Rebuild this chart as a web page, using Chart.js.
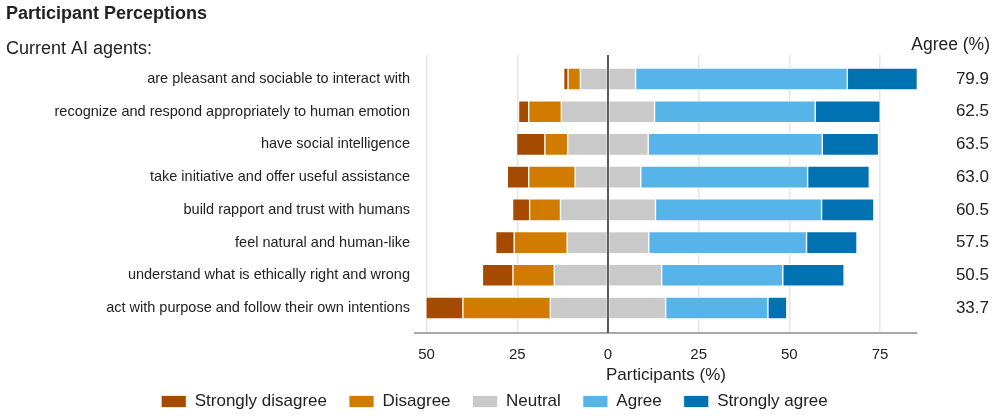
<!DOCTYPE html>
<html>
<head>
<meta charset="utf-8">
<script src="https://cdn.jsdelivr.net/npm/chart.js@4"></script>
<style>
  html, body { margin: 0; padding: 0; background: #fff; }
  #wrap { width: 995px; height: 416px; }
</style>
</head>
<body>
<div id="wrap"><canvas id="chart"></canvas></div>
<script>
// survey statements (top to bottom)
const categories = [
  'are pleasant and sociable to interact with',
  'recognize and respond appropriately to human emotion',
  'have social intelligence',
  'take initiative and offer useful assistance',
  'build rapport and trust with humans',
  'feel natural and human-like',
  'understand what is ethically right and wrong',
  'act with purpose and follow their own intentions'
];
const stronglyDisagree = [1.2, 2.8, 7.8, 5.9, 4.7, 5.1, 8.4, 10.2];
const disagree = [3.4, 9.0, 6.3, 12.8, 8.5, 14.6, 11.4, 24.1];
const neutral = [15.2, 25.7, 22.2, 18.1, 26.2, 22.5, 29.6, 31.8];
const agree = [58.4, 44.3, 48.0, 46.0, 45.8, 43.5, 33.4, 28.2];
const stronglyAgree = [19.3, 17.9, 15.5, 17.0, 14.4, 13.9, 16.9, 5.2];
const agreePct = [79.9, 62.5, 63.5, 63.0, 60.5, 57.5, 50.5, 33.7];
const xTicks = [-50, -25, 0, 25, 50, 75];

const FONT = "'Liberation Sans', Arial, sans-serif";
const colors = {
  sd: '#A54B00',
  d: '#D17C00',
  n: '#C9C9C9',
  a: '#57B4E8',
  sa: '#0072B2'
};
const legendOrder = ['Strongly disagree', 'Disagree', 'Neutral', 'Agree', 'Strongly agree'];

// neutral is split in half around zero
const pts = (vals, sign) => vals.map((v, i) => ({ x: sign * v, y: i }));

function ds(label, data, color) {
  return {
    label: label,
    data: data,
    backgroundColor: color,
    borderColor: 'rgba(255,255,255,0.75)',
    borderWidth: 1,
    borderSkipped: false,
    barThickness: 22,
    stack: 's'
  };
}

const rowScale = (extra) => Object.assign({
  type: 'linear',
  reverse: true,
  offset: false,
  min: -0.734,
  max: 7.764,
  afterBuildTicks: s => { s.ticks = categories.map((c, i) => ({ value: i })); },
  grid: { display: false, drawTicks: false },
  border: { display: false }
}, extra);

const overlay = {
  id: 'overlay',
  afterDatasetsDraw(chart) {
    const { ctx, chartArea, scales } = chart;
    const x0 = scales.x.getPixelForValue(0);
    ctx.save();
    ctx.strokeStyle = '#5a5a5a';
    ctx.lineWidth = 2;
    ctx.beginPath();
    ctx.moveTo(x0, chartArea.top);
    ctx.lineTo(x0, chartArea.bottom);
    ctx.stroke();
    ctx.restore();
  },
  afterDraw(chart) {
    const ctx = chart.ctx;
    ctx.save();
    ctx.fillStyle = '#222';
    ctx.textBaseline = 'middle';
    ctx.textAlign = 'left';
    ctx.font = 'bold 18px ' + FONT;
    ctx.fillText('Participant Perceptions', 6, 14);
    ctx.font = '18px ' + FONT;
    ctx.fillText('Current AI agents:', 6, 49);
    ctx.textAlign = 'right';
    ctx.font = '17.5px ' + FONT;
    ctx.fillText('Agree (%)', 990, 45);
    ctx.restore();
  }
};

new Chart(document.getElementById('chart'), {
  type: 'bar',
  data: {
    datasets: [
      ds('Neutral', pts(neutral.map(v => v / 2), -1), colors.n),
      ds('Disagree', pts(disagree, -1), colors.d),
      ds('Strongly disagree', pts(stronglyDisagree, -1), colors.sd),
      ds('Neutral', pts(neutral.map(v => v / 2), 1), colors.n),
      ds('Agree', pts(agree, 1), colors.a),
      ds('Strongly agree', pts(stronglyAgree, 1), colors.sa)
    ]
  },
  options: {
    indexAxis: 'y',
    responsive: true,
    maintainAspectRatio: false,
    animation: false,
    layout: { padding: { top: 55, right: 6, left: 0, bottom: -4 } },
    scales: {
      x: {
        type: 'linear',
        stacked: true,
        min: -53.2,
        max: 85.2,
        afterBuildTicks: s => { s.ticks = xTicks.map(v => ({ value: v })); },
        afterFit: s => { s.height = 38; },
        grid: { color: '#e6e6e6', lineWidth: 1.5, drawTicks: false },
        border: { display: true, color: '#a8a8a8', width: 2 },
        ticks: {
          font: { family: FONT, size: 15 },
          color: '#222',
          padding: 13,
          callback: v => Math.abs(v)
        },
        title: {
          display: true,
          text: 'Participants (%)',
          font: { family: FONT, size: 17 },
          color: '#222',
          padding: { top: 0, bottom: -15 }
        }
      },
      y: rowScale({
        stacked: true,
        position: 'left',
        afterFit: s => { s.width = 415; },
        ticks: {
          font: { family: FONT, size: 14.5 },
          color: '#222',
          padding: 5,
          callback: v => categories[v]
        }
      }),
      agreeAxis: rowScale({
        position: 'right',
        afterFit: s => { s.width = 72; },
        ticks: {
          font: { family: FONT, size: 17 },
          color: '#222',
          crossAlign: 'far',
          callback: v => agreePct[v].toFixed(1)
        }
      })
    },
    plugins: {
      legend: {
        position: 'bottom',
        labels: {
          font: { family: FONT, size: 17 },
          color: '#222',
          boxWidth: 25,
          boxHeight: 12,
          padding: 22,
          filter: (item) => item.datasetIndex !== 3,
          sort: (a, b) => legendOrder.indexOf(a.text) - legendOrder.indexOf(b.text)
        }
      },
      tooltip: { enabled: false }
    }
  },
  plugins: [overlay]
});
</script>
</body>
</html>
